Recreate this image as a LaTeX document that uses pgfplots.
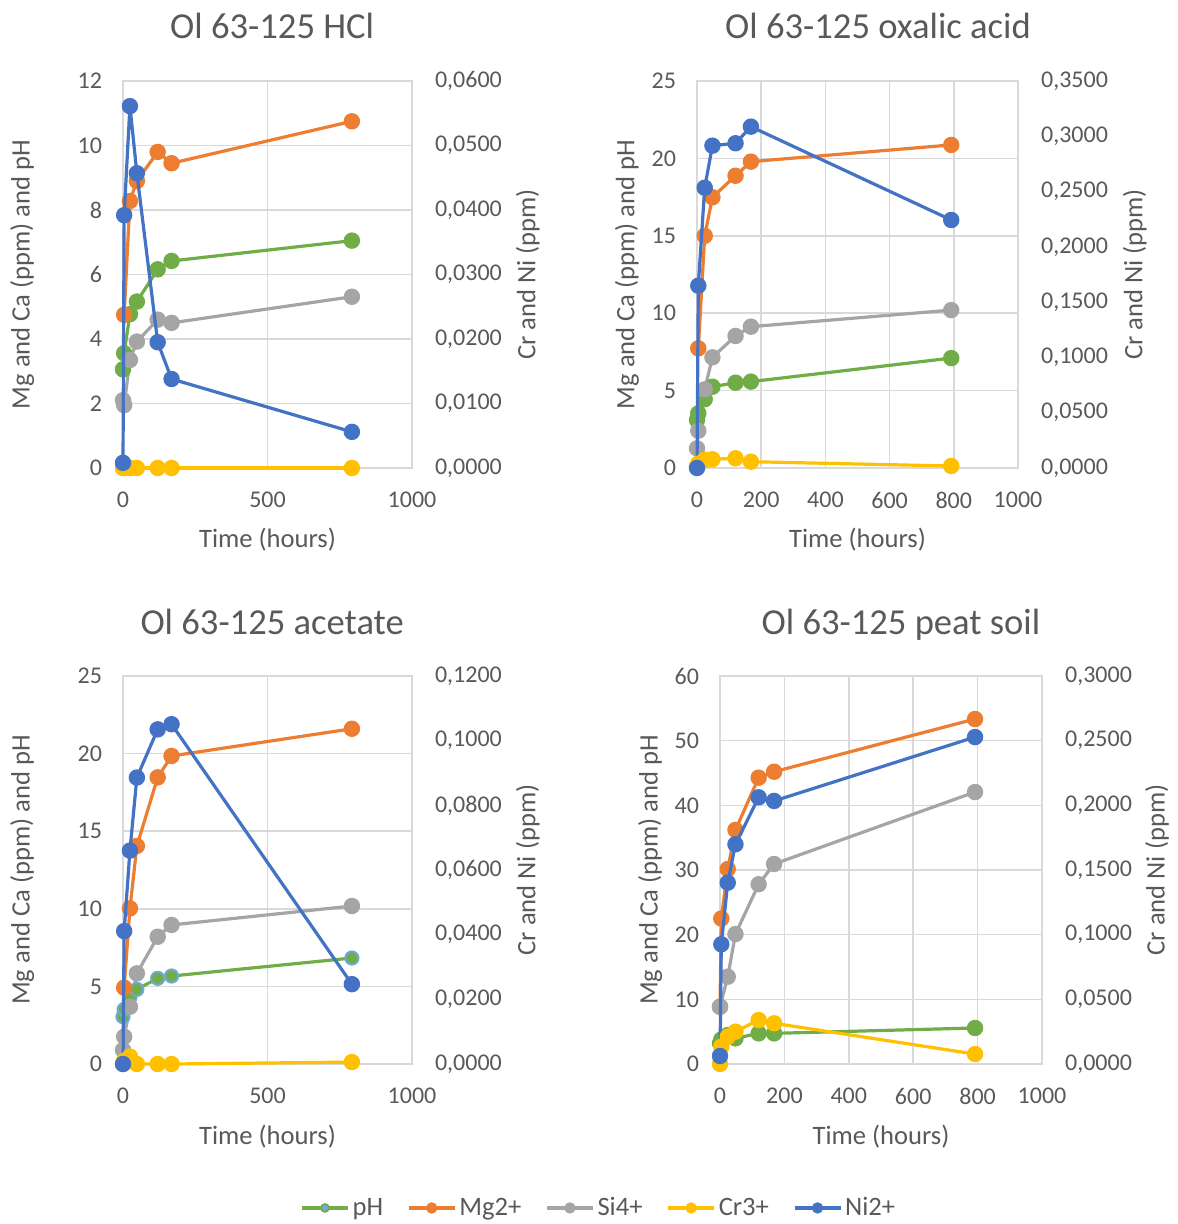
\documentclass[border=0pt]{standalone}
\usepackage{fontspec}
\setmainfont{Carlito}
\usepackage{pgfplots}
\pgfplotsset{compat=1.18}
\definecolor{cph}{HTML}{70AD47}
\definecolor{cmg}{HTML}{ED7D31}
\definecolor{csi}{HTML}{A5A5A5}
\definecolor{ccr}{HTML}{FFC000}
\definecolor{cni}{HTML}{4472C4}
\definecolor{cphb}{HTML}{6FA8DC}
\definecolor{gridc}{HTML}{D9D9D9}
\definecolor{txt}{HTML}{595959}
\pgfplotsset{
 base/.style={scale only axis, clip=false,
   major tick length=0pt, tick style={draw=none},
   ticklabel style={font=\fontsize{12}{14}\selectfont, text=txt},
   label style={font=\fontsize{13.3}{15}\selectfont, text=txt},
   title style={font=\fontsize{18.3}{21}\selectfont, text=txt, anchor=base, yshift=15pt},
   /pgf/number format/assume math mode=true,
   /pgf/number format/1000 sep={},
   xmin=0, xmax=1000, ymin=0},
 leftax/.style={base, axis line style={draw=gridc, line width=0.75pt},
   grid=major, major grid style={draw=gridc, line width=0.75pt},
   yticklabel style={xshift=-7pt}, xticklabel style={yshift=-8.5pt},
   xlabel={Time (hours)}, ylabel={Mg and Ca (ppm) and pH},
   xlabel style={at={(axis description cs:0.5,-0.186)}, anchor=center}},
 rightax/.style={base, axis y line*=right, axis x line=none,
   axis line style={draw=gridc, line width=0.75pt},
   yticklabel style={xshift=8pt}, scaled y ticks=false,
   /pgf/number format/fixed, /pgf/number format/fixed zerofill,
   /pgf/number format/precision=4, /pgf/number format/use comma,
   ylabel={Cr and Ni (ppm)}},
 s/.style={line width=1.6pt, mark=*, mark size=3.3pt, mark options={solid}},
 ph/.style={s, color=cph},
 mg/.style={s, color=cmg},
 si/.style={s, color=csi},
 cr/.style={s, color=ccr},
 ni/.style={s, color=cni},
}
\begin{document}
\begin{tikzpicture}
\path[use as bounding box] (0,0) rectangle (588.5pt,-612pt);
% ---------- Panel 1: HCl ----------
\begin{axis}[leftax, at={(61.5pt,-234pt)}, anchor=south west, width=144.5pt, height=193.5pt,
  ymax=12, ytick={0,2,4,6,8,10,12}, xtick={0,500,1000},
  title={Ol 63-125 HCl}, title style={at={(axis description cs:0.516,1)}},
  ylabel style={at={(axis description cs:-0.349,0.5)}, anchor=center}]
\addplot[ph] coordinates {(0,3.06)(4,3.56)(24,4.77)(48,5.16)(120,6.16)(168,6.42)(792,7.05)};
\addplot[mg] coordinates {(4,4.75)(24,8.28)(48,8.9)(120,9.8)(168,9.45)(792,10.75)};
\addplot[si] coordinates {(0,2.1)(4,1.95)(24,3.35)(48,3.92)(120,4.6)(168,4.5)(792,5.31)};
\end{axis}
\begin{axis}[rightax, at={(61.5pt,-234pt)}, anchor=south west, width=144.5pt, height=193.5pt,
  ymax=0.06, ytick={0,0.01,0.02,0.03,0.04,0.05,0.06},
  ylabel style={at={(axis description cs:1.401,0.5)}, anchor=center}]
\addplot[cr] coordinates {(0,0)(4,0)(24,0)(48,0)(120,0)(168,0)(792,0)};
\addplot[ni] coordinates {(0,0.0008)(4,0.0392)(24,0.0561)(48,0.0457)(120,0.0195)(168,0.0138)(792,0.0056)};
\end{axis}
% ---------- Panel 2: oxalic acid ----------
\begin{axis}[leftax, at={(348.5pt,-234pt)}, anchor=south west, width=160.5pt, height=193.5pt,
  ymax=25, ytick={0,5,10,15,20,25}, xtick={0,200,400,600,800,1000},
  title={Ol 63-125 oxalic acid}, title style={at={(axis description cs:0.564,1)}},
  ylabel style={at={(axis description cs:-0.218,0.5)}, anchor=center}]
\addplot[ph] coordinates {(0,3.10)(4,3.53)(24,4.44)(48,5.25)(120,5.51)(168,5.58)(792,7.1)};
\addplot[mg] coordinates {(4,7.73)(24,15.0)(48,17.49)(120,18.88)(168,19.79)(792,20.87)};
\addplot[si] coordinates {(0,1.27)(4,2.41)(24,5.08)(48,7.15)(120,8.53)(168,9.13)(792,10.2)};
\end{axis}
\begin{axis}[rightax, at={(348.5pt,-234pt)}, anchor=south west, width=160.5pt, height=193.5pt,
  ymax=0.35, ytick={0,0.05,0.1,0.15,0.2,0.25,0.3,0.35},
  ylabel style={at={(axis description cs:1.364,0.5)}, anchor=center}]
\addplot[cr] coordinates {(0,0.0012)(4,0.004)(24,0.0075)(48,0.0079)(120,0.0088)(168,0.0057)(792,0.0018)};
\addplot[ni] coordinates {(0,0)(4,0.1649)(24,0.2535)(48,0.2915)(120,0.2937)(168,0.3087)(792,0.2243)};
\end{axis}
% ---------- Panel 3: acetate ----------
\begin{axis}[leftax, at={(61.5pt,-532pt)}, anchor=south west, width=144.5pt, height=194pt,
  ymax=25, ytick={0,5,10,15,20,25}, xtick={0,500,1000},
  title={Ol 63-125 acetate}, title style={at={(axis description cs:0.516,1)}},
  ylabel style={at={(axis description cs:-0.349,0.5)}, anchor=center}]
\addplot[ph, mark options={draw=cphb, fill=cph, line width=1pt}] coordinates {(0,3.05)(4,3.52)(24,4.3)(48,4.81)(120,5.52)(168,5.67)(792,6.83)};
\addplot[mg] coordinates {(4,4.92)(24,10.03)(48,14.05)(120,18.47)(168,19.85)(792,21.6)};
\addplot[si] coordinates {(0,0.9)(4,1.76)(24,3.69)(48,5.84)(120,8.2)(168,8.96)(792,10.18)};
\end{axis}
\begin{axis}[rightax, at={(61.5pt,-532pt)}, anchor=south west, width=144.5pt, height=194pt,
  ymax=0.12, ytick={0,0.02,0.04,0.06,0.08,0.1,0.12},
  ylabel style={at={(axis description cs:1.401,0.5)}, anchor=center},
  legend columns=5,
  legend style={at={(1.648,-0.371)}, anchor=center, draw=none, fill=none,
    font=\fontsize{13.3}{15}\selectfont, text=txt,
    nodes={inner xsep=1.5pt},
    /tikz/every odd column/.append style={column sep=0pt},
    /tikz/every even column/.append style={column sep=10.5pt}},
  legend image code/.code={\draw[mark repeat=2,mark phase=2,#1,mark size=2pt,line width=1.6pt] plot coordinates {(0pt,0pt) (11.5pt,0pt) (23pt,0pt)};}]
\addlegendimage{ph, mark options={draw=cph, fill=cphb, line width=0.8pt}}
\addlegendimage{mg}
\addlegendimage{si}
\addplot[cr] coordinates {(0,0)(4,0.001)(24,0.0023)(48,0)(120,0)(168,0)(792,0.0006)};
\addplot[ni] coordinates {(0,0)(4,0.0411)(24,0.066)(48,0.0886)(120,0.1035)(168,0.1051)(792,0.0247)};
\legend{pH,Mg2+,Si4+,Cr3+,Ni2+}
\end{axis}
% ---------- Panel 4: peat soil ----------
\begin{axis}[leftax, at={(360pt,-532pt)}, anchor=south west, width=161pt, height=194pt,
  ymax=60, ytick={0,10,20,30,40,50,60}, xtick={0,200,400,600,800,1000},
  title={Ol 63-125 peat soil}, title style={at={(axis description cs:0.562,1)}},
  ylabel style={at={(axis description cs:-0.217,0.5)}, anchor=center}]
\addplot[ph] coordinates {(0,3.2)(4,3.8)(24,4.48)(48,3.97)(120,4.74)(168,4.74)(792,5.57)};
\addplot[mg] coordinates {(0,8.86)(4,22.5)(24,30.15)(48,36.2)(120,44.28)(168,45.2)(792,53.35)};
\addplot[si] coordinates {(0,8.86)(24,13.5)(48,20.1)(120,27.8)(168,30.93)(792,42.06)};
\end{axis}
\begin{axis}[rightax, at={(360pt,-532pt)}, anchor=south west, width=161pt, height=194pt,
  ymax=0.3, ytick={0,0.05,0.1,0.15,0.2,0.25,0.3},
  ylabel style={at={(axis description cs:1.357,0.5)}, anchor=center}]
\addplot[cr] coordinates {(0,0)(4,0.0134)(24,0.0211)(48,0.025)(120,0.034)(168,0.0315)(792,0.0077)};
\addplot[ni] coordinates {(0,0.0062)(4,0.0926)(24,0.1402)(48,0.1699)(120,0.2062)(168,0.2034)(792,0.2528)};
\end{axis}
\end{tikzpicture}
\end{document}
